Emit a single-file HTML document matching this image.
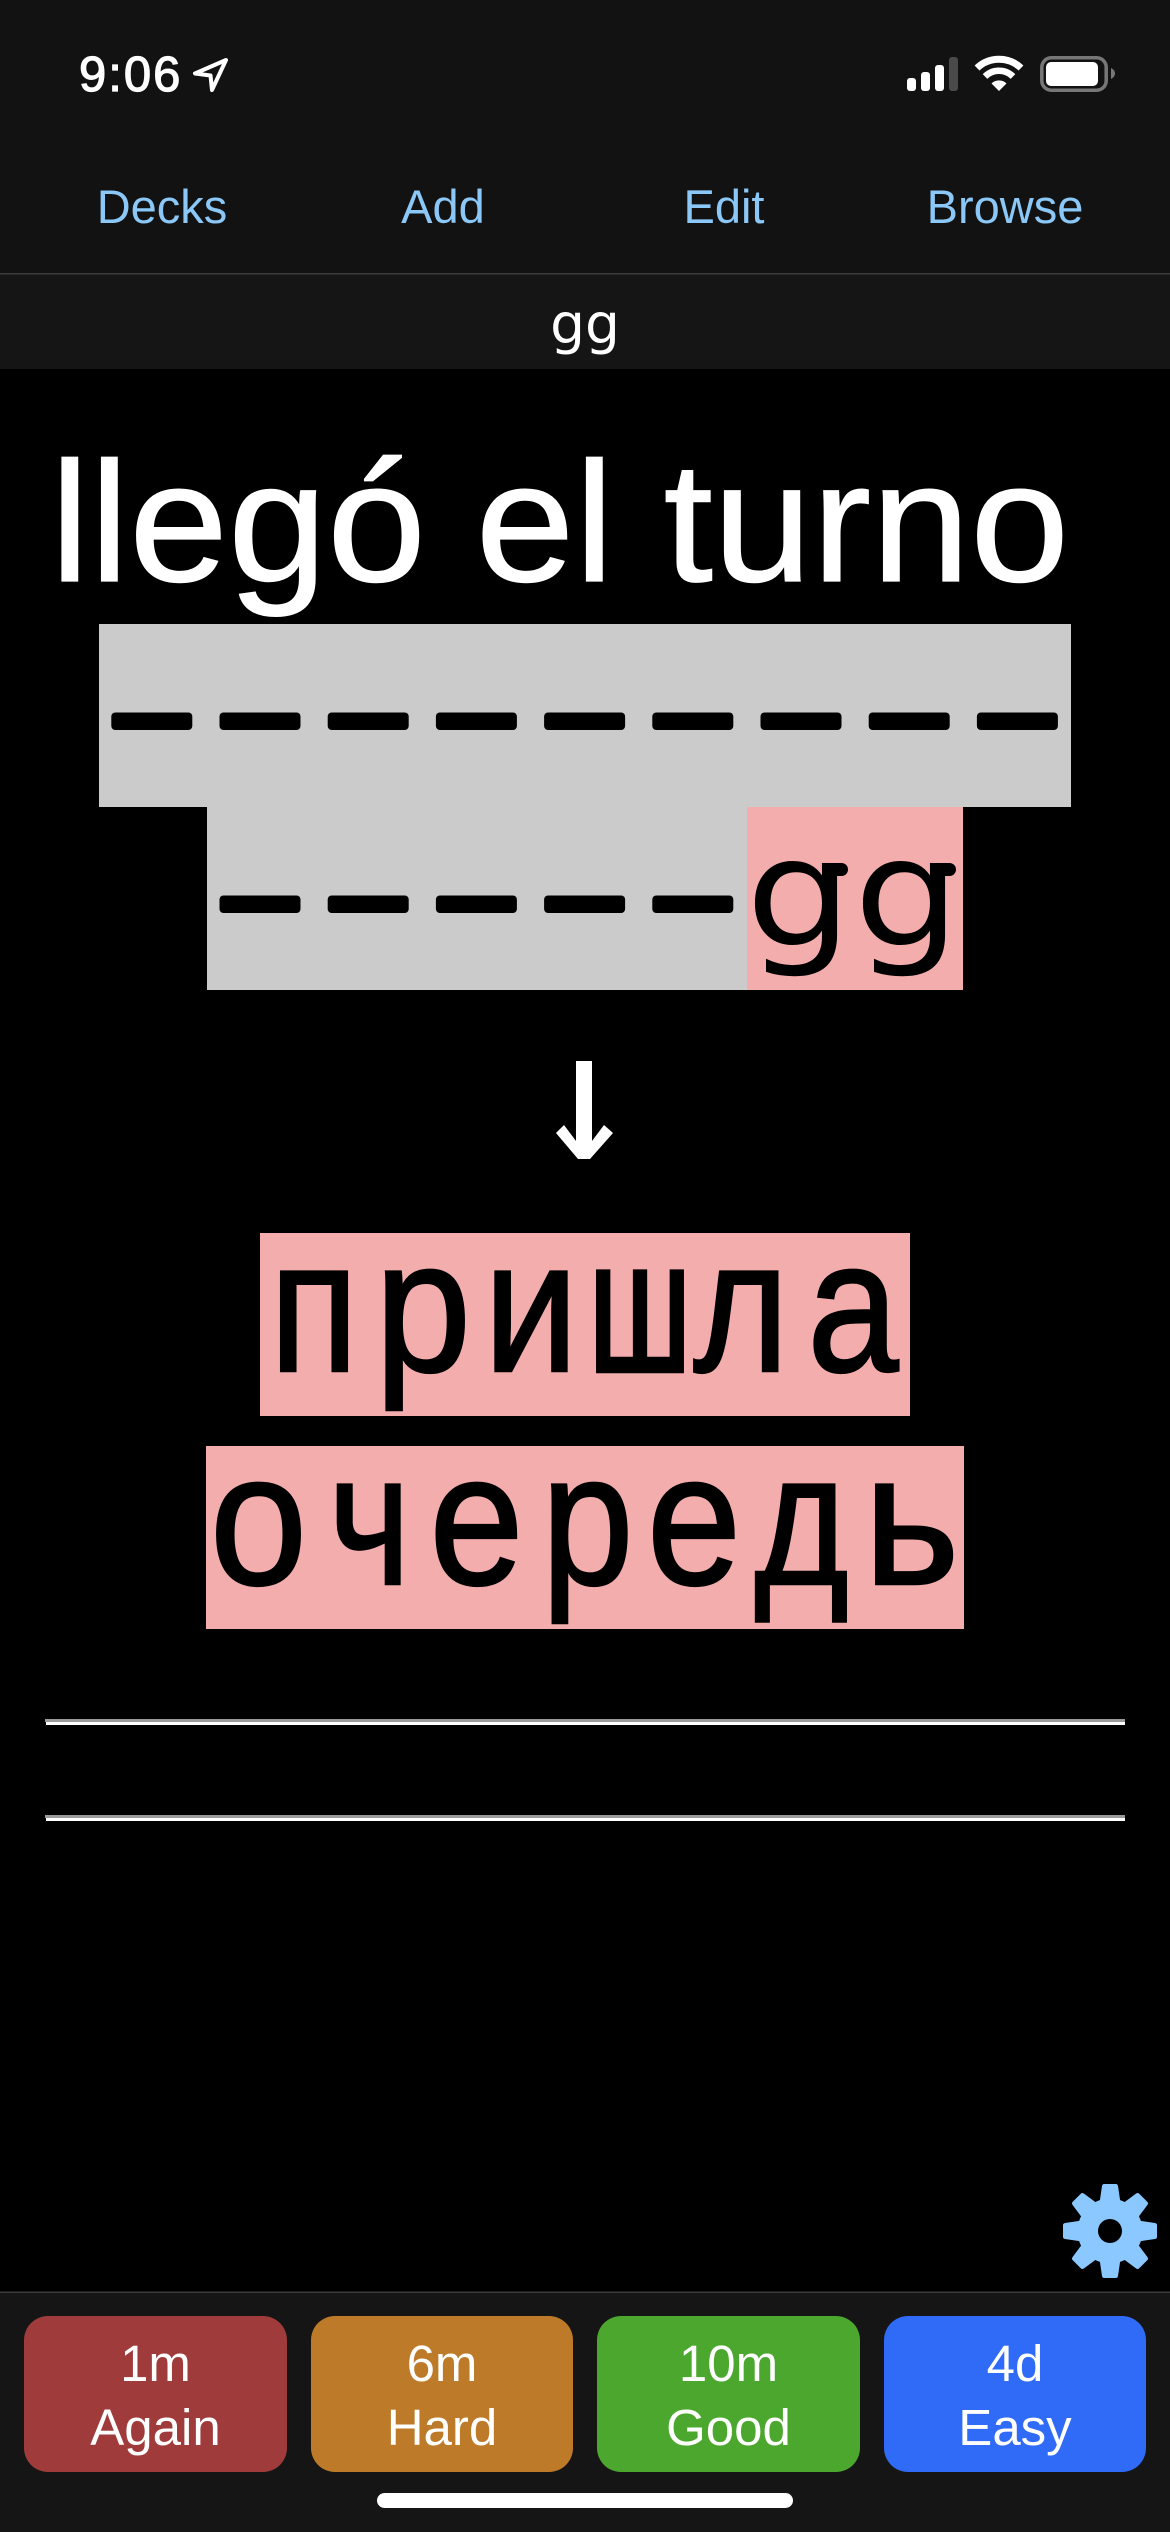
<!DOCTYPE html>
<html lang="es">
<head>
<meta charset="utf-8">
<title>gg</title>
<style>
html,body{margin:0;padding:0;background:#000;width:1170px;height:2532px;overflow:hidden}
svg{display:block}
.ls{font-family:"Liberation Sans",sans-serif}
.dv{font-family:"DejaVu Sans",sans-serif}
</style>
</head>
<body>
<svg xmlns="http://www.w3.org/2000/svg" width="1170" height="2532" viewBox="0 0 1170 2532">
<defs>
<rect id="d" width="81" height="17.5" rx="4" fill="#000"/>
<path id="t" d="M-6 -47 L6 -47 Q7.500 -47 8 -45 L10.500 -28 L-10.500 -28 L-8 -45 Q-7.500 -47 -6 -47Z" fill="#8bc8ff"/>
</defs>
<rect width="1170" height="2532" fill="#000"/>

<!-- header -->
<rect width="1170" height="273" fill="#121212"/>
<rect y="273" width="1170" height="96" fill="#151515"/>
<rect y="273" width="1170" height="1.500" fill="#3c3c3c"/>

<!-- status bar -->
<text class="ls" x="79" y="91" font-size="49" letter-spacing="2" fill="#fff" stroke="#fff" stroke-width="1.200">9:06</text>
<polygon points="226,60 195,73.500 210.500,75.500 212,90" fill="none" stroke="#fff" stroke-width="4" stroke-linejoin="round"/>
<rect x="907" y="78" width="9" height="13" rx="3" fill="#fff"/>
<rect x="921" y="72" width="9" height="19" rx="3" fill="#fff"/>
<rect x="935" y="65" width="9" height="26" rx="3" fill="#fff"/>
<rect x="949" y="57" width="9" height="34" rx="3" fill="#4a4a4a"/>
<path d="M977 68 A32 32 0 0 1 1021 68" fill="none" stroke="#fff" stroke-width="7"/>
<path d="M985 76.500 A20 20 0 0 1 1013 76.500" fill="none" stroke="#fff" stroke-width="6.500"/>
<path d="M991.500 83.500 A10.500 10.500 0 0 1 1006.500 83.500 L999 91Z" fill="#fff"/>
<rect x="1041.800" y="57.800" width="64.400" height="32.400" rx="9.500" fill="none" stroke="#777" stroke-width="3.500"/>
<rect x="1046" y="62" width="52" height="24" rx="5" fill="#fff"/>
<path d="M1111 68 Q1115 70 1115 73.500 Q1115 77 1111 79Z" fill="#777"/>

<!-- nav -->
<g class="ls" font-size="47" fill="#8bc8f8" text-anchor="middle">
<text x="162" y="223">Decks</text>
<text x="443" y="223">Add</text>
<text x="724" y="223">Edit</text>
<text x="1005" y="223">Browse</text>
</g>
<text class="dv" x="585" y="343" font-size="55" fill="#fff" text-anchor="middle">gg</text>

<!-- title -->
<text class="ls" transform="translate(50,581) scale(1,.96)" font-size="178" fill="#fff" stroke="#fff" stroke-width="1.200">llegó el turno</text>

<!-- cloze -->
<rect x="99" y="624" width="972" height="183" fill="#cbcbcb"/>
<rect x="207" y="806" width="540" height="184" fill="#cbcbcb"/>
<rect x="747" y="807" width="216" height="183" fill="#f4adad"/>
<use href="#d" x="111.300" y="712.500"/>
<use href="#d" x="219.500" y="712.500"/>
<use href="#d" x="327.700" y="712.500"/>
<use href="#d" x="435.900" y="712.500"/>
<use href="#d" x="544.100" y="712.500"/>
<use href="#d" x="652.300" y="712.500"/>
<use href="#d" x="760.500" y="712.500"/>
<use href="#d" x="868.700" y="712.500"/>
<use href="#d" x="976.900" y="712.500"/>
<use href="#d" x="219.500" y="895.500"/>
<use href="#d" x="327.700" y="895.500"/>
<use href="#d" x="435.900" y="895.500"/>
<use href="#d" x="544.100" y="895.500"/>
<use href="#d" x="652.300" y="895.500"/>
<text class="dv" transform="translate(799,945) scale(1.120,1)" font-size="150" fill="#000" text-anchor="middle">g</text>
<text class="dv" transform="translate(907,945) scale(1.120,1)" font-size="150" fill="#000" text-anchor="middle">g</text>
<rect x="825" y="863" width="23" height="13" rx="6.500" fill="#000"/>
<rect x="933" y="863" width="23" height="13" rx="6.500" fill="#000"/>

<!-- arrow -->
<polygon points="576,1061 592,1061 592,1141 604,1125 613,1133 590,1159 578,1159 556,1133 564,1125 576,1141" fill="#fff"/>

<!-- translation -->
<rect x="260" y="1233" width="650" height="183" fill="#f4adad"/>
<rect x="206" y="1446" width="758" height="183" fill="#f4adad"/>
<g class="ls" font-size="188" fill="#000" stroke="#000" stroke-width="2.500" text-anchor="middle">
<text transform="translate(314,1371) scale(.87,1)">п</text>
<text transform="translate(423,1371) scale(.92,1)">р</text>
<text transform="translate(531,1371) scale(.90,1)">и</text>
<text transform="translate(640,1371) scale(.68,1)" stroke-width="4.500">ш</text>
<text transform="translate(741,1371) scale(.87,1)">л</text>
<text transform="translate(853,1371) scale(.87,1)">а</text>
<text transform="translate(258.500,1584) scale(.93,1)">о</text>
<text transform="translate(369.500,1584) scale(.84,1)">ч</text>
<text transform="translate(476.500,1584) scale(.90,1)">е</text>
<text transform="translate(587.500,1584) scale(.88,1)">р</text>
<text transform="translate(694,1584) scale(.90,1)">е</text>
<text transform="translate(801.500,1584) scale(.86,1)">д</text>
<text transform="translate(911.500,1584) scale(.98,1)">ь</text>
</g>

<!-- rules -->
<rect x="45" y="1719" width="1080" height="3" fill="#9a9a9a"/>
<rect x="46" y="1722" width="1079" height="3" fill="#fff"/>
<rect x="45" y="1815" width="1080" height="3" fill="#9a9a9a"/>
<rect x="46" y="1818" width="1079" height="3" fill="#fff"/>

<!-- gear -->
<g transform="translate(1110,2231)">
<circle r="32.500" fill="#8bc8ff"/>
<use href="#t"/>
<use href="#t" transform="rotate(45)"/>
<use href="#t" transform="rotate(90)"/>
<use href="#t" transform="rotate(135)"/>
<use href="#t" transform="rotate(180)"/>
<use href="#t" transform="rotate(225)"/>
<use href="#t" transform="rotate(270)"/>
<use href="#t" transform="rotate(315)"/>
<circle r="12" fill="#000"/>
</g>

<!-- bottom bar -->
<rect y="2292" width="1170" height="240" fill="#151515"/>
<rect y="2291.500" width="1170" height="1.500" fill="#3c3c3c"/>
<rect x="24" y="2316" width="263" height="156" rx="24" fill="#9f3b3b"/>
<rect x="311" y="2316" width="262" height="156" rx="24" fill="#bd7b2a"/>
<rect x="597" y="2316" width="263" height="156" rx="24" fill="#4ca72f"/>
<rect x="884" y="2316" width="262" height="156" rx="24" fill="#2f6bf7"/>
<g class="ls" font-size="51" fill="#fff" text-anchor="middle">
<text x="155.500" y="2381">1m</text>
<text x="155.500" y="2445">Again</text>
<text x="442" y="2381">6m</text>
<text x="442" y="2445">Hard</text>
<text x="728.500" y="2381">10m</text>
<text x="728.500" y="2445">Good</text>
<text x="1015" y="2381">4d</text>
<text x="1015" y="2445">Easy</text>
</g>
<rect x="377" y="2493" width="416" height="15" rx="7.500" fill="#fff"/>
</svg>
</body>
</html>
